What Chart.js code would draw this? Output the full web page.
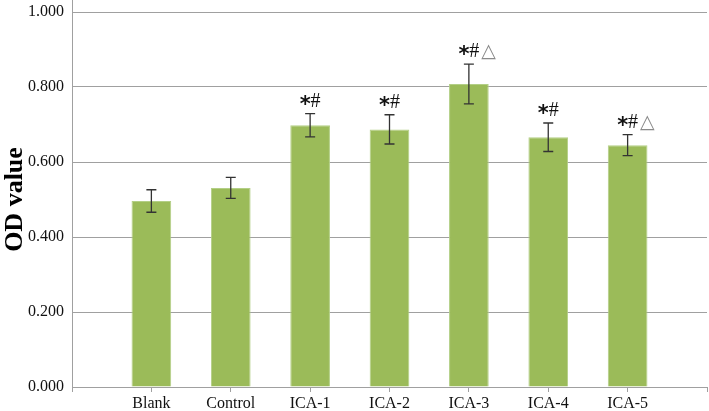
<!DOCTYPE html>
<html>
<head>
<meta charset="utf-8">
<script src="https://cdn.jsdelivr.net/npm/chart.js@4"></script>
<style>
  html, body { margin: 0; padding: 0; background: #fff; }
  #wrap { width: 709px; height: 411px; }
</style>
</head>
<body>
<div id="wrap"><canvas id="odChart" width="709" height="411"></canvas></div>
<script>
// values
const groups = ['Blank', 'Control', 'ICA-1', 'ICA-2', 'ICA-3', 'ICA-4', 'ICA-5'];
const odMean = [0.496, 0.531, 0.698, 0.687, 0.808, 0.666, 0.645];
const odSd = [0.030, 0.028, 0.031, 0.039, 0.053, 0.038, 0.028];
const marks = ['', '', '*#', '*#', '*#△', '*#', '*#△'];
const yTicks = [0, 0.2, 0.4, 0.6, 0.8, 1.0];

// empty slot at each end so the bars sit on the tick marks like the original
const labels = [''].concat(groups, ['']);
const values = [null].concat(odMean, [null]);

const serif = "'Liberation Serif', 'Times New Roman', serif";

// error bars + significance marks
const errorBars = {
    id: 'errorBars',
    afterDatasetsDraw(chart) {
        const ctx = chart.ctx;
        const x = chart.scales.x, y = chart.scales.y;
        ctx.save();
        groups.forEach((g, i) => {
            const cx = x.getPixelForValue(i + 1);
            const top = y.getPixelForValue(odMean[i] + odSd[i]);
            const bot = y.getPixelForValue(odMean[i] - odSd[i]);
            ctx.strokeStyle = '#333';
            ctx.lineWidth = 1.3;
            ctx.beginPath();
            ctx.moveTo(cx, top); ctx.lineTo(cx, bot);
            ctx.moveTo(cx - 5, top); ctx.lineTo(cx + 5, top);
            ctx.moveTo(cx - 5, bot); ctx.lineTo(cx + 5, bot);
            ctx.stroke();

            const m = marks[i];
            if (!m) return;
            const base = top - 7;
            ctx.textBaseline = 'alphabetic';
            ctx.fillStyle = '#111';
            const starFont = "bold 21px 'DejaVu Sans', sans-serif";
            const hashFont = '20px ' + serif;
            ctx.font = starFont;
            const wStar = ctx.measureText('*').width;
            ctx.font = hashFont;
            const wHash = ctx.measureText('#').width;
            let left = cx - (wStar + wHash) / 2;
            ctx.textAlign = 'left';
            ctx.font = starFont;
            ctx.fillText('*', left, base + 4);
            ctx.font = hashFont;
            ctx.fillText('#', left + wStar, base);
            if (m.indexOf('△') >= 0) {
                ctx.font = "19px 'DejaVu Sans', sans-serif";
                ctx.fillStyle = '#8a8a8a';
                ctx.fillText('△', left + wStar + wHash + 2, base);
            }
        });
        // y axis line continues a little above the top gridline
        ctx.strokeStyle = '#a0a0a0';
        ctx.lineWidth = 1;
        ctx.beginPath();
        ctx.moveTo(chart.chartArea.left + 0.5, 0);
        ctx.lineTo(chart.chartArea.left + 0.5, chart.chartArea.top);
        ctx.stroke();
        ctx.restore();
    }
};

new Chart(document.getElementById('odChart'), {
    type: 'bar',
    data: {
        labels: labels,
        datasets: [{
            data: values,
            backgroundColor: '#9bbb59',
            borderColor: '#b3cf86',
            borderWidth: { left: 1, right: 1, top: 1, bottom: 0 },
            categoryPercentage: 1,
            barPercentage: 0.5
        }]
    },
    options: {
        responsive: false,
        animation: false,
        layout: { padding: { top: 12, right: 2, left: 0, bottom: 0 } },
        plugins: { legend: { display: false }, tooltip: { enabled: false } },
        scales: {
            x: {
                offset: false,
                grid: {
                    offset: false,
                    drawOnChartArea: false,
                    drawTicks: true,
                    tickLength: 5,
                    color: '#a0a0a0'
                },
                border: { color: '#a0a0a0' },
                ticks: {
                    color: '#111',
                    font: { family: serif, size: 16 },
                    padding: 2,
                    maxRotation: 0,
                    autoSkip: false
                },
                afterFit(s) { s.height = 24; s.paddingLeft = 0; s.paddingRight = 0; }
            },
            y: {
                min: 0,
                max: 1,
                afterBuildTicks(s) { s.ticks = yTicks.map(v => ({ value: v })); },
                grid: { color: '#a0a0a0', drawTicks: false },
                border: { color: '#a0a0a0' },
                ticks: {
                    color: '#111',
                    font: { family: serif, size: 16 },
                    padding: 8,
                    callback: v => Number(v).toFixed(3)
                },
                title: {
                    display: true,
                    text: 'OD value',
                    color: '#000',
                    font: { family: serif, size: 26, weight: 'bold' },
                    padding: { top: 0, bottom: 2 }
                },
                afterFit(s) { s.width = 72; s.paddingTop = 0; s.paddingBottom = 0; }
            }
        }
    },
    plugins: [errorBars]
});
</script>
</body>
</html>
